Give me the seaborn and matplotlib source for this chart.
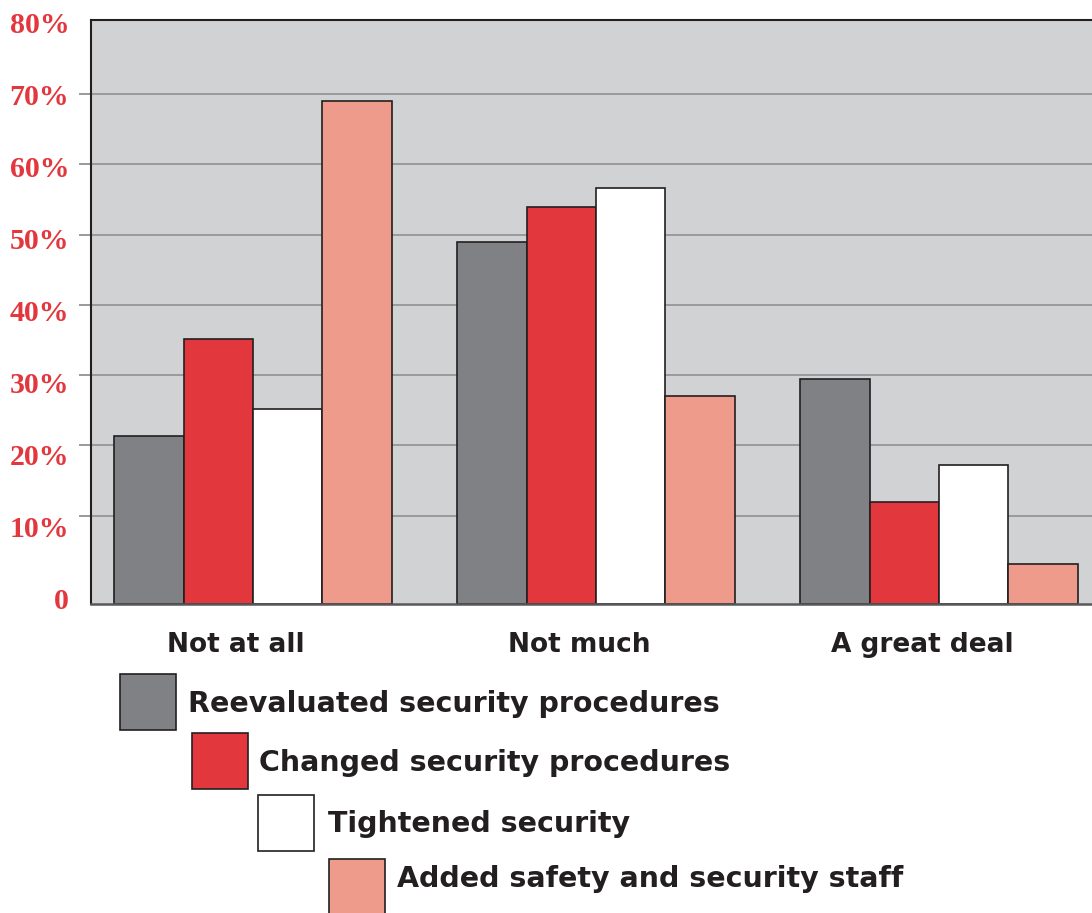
import matplotlib
matplotlib.use("Agg")
import matplotlib.pyplot as plt
import matplotlib.transforms as mtransforms
from matplotlib.patches import Rectangle
import numpy as np
import pandas as pd
import seaborn as sns

# ---- data -------------------------------------------------------------
responses = ["Not at all", "Not much", "A great deal"]
actions = [
    "Reevaluated security procedures",
    "Changed security procedures",
    "Tightened security",
    "Added safety and security staff",
]
reevaluated = [21.4, 48.9, 29.4]
changed = [35.1, 54.0, 12.0]
tightened = [25.2, 56.7, 17.2]
added_staff = [69.0, 27.1, 3.2]
y_tick_values = [0, 10, 20, 30, 40, 50, 60, 70, 80]
y_tick_labels = ["0", "10%", "20%", "30%", "40%", "50%", "60%", "70%", "80%"]
grid_values = [10, 20, 30, 40, 50, 60, 70]

colors = ["#808184", "#e3373e", "#ffffff", "#ef9b8b"]

df = pd.DataFrame({
    "response": responses * 4,
    "action": np.repeat(actions, 3),
    "pct": reevaluated + changed + tightened + added_staff,
})

# ---- style ------------------------------------------------------------
sns.set_theme(style="white")
plt.rcParams["font.family"] = ["DejaVu Sans"]

W, H = 1092, 913
fig = plt.figure(figsize=(W / 100, H / 100), dpi=100)
ax_left, ax_top, ax_bottom = 90.7, 20.0, 604.3
ax = fig.add_axes([ax_left / W, 1 - ax_bottom / H, 1 - ax_left / W, (ax_bottom - ax_top) / H])
ax.set_facecolor("#d1d2d4")

sns.barplot(
    data=df, x="response", y="pct", hue="action", order=responses,
    hue_order=actions, palette=colors, saturation=1, width=0.808,
    edgecolor="#231f20", linewidth=1.2, legend=False, ax=ax,
)

y0, y1 = -2.6, 80.54
ax.set_ylim(y0, y1)
ax.set_xlim(-0.473, 2.446)

# bars rest on the floor of the plot frame
for p in ax.patches:
    h = p.get_height()
    p.set_y(y0)
    p.set_height(h - y0)

# gridlines with short outward ticks
ax.set_axisbelow(True)
ax.set_yticks(grid_values)
ax.set_yticklabels([])
ax.yaxis.grid(True, color="#9a9a9c", linewidth=1.4)
ax.xaxis.grid(False)
ax.tick_params(axis="y", which="major", direction="out", length=8.6,
               width=1.4, color="#9a9a9c", left=True)

# value labels, evenly spread down the left side
label_pos = [-1.707 + 1.0232 * v for v in y_tick_values]
ax.set_yticks(label_pos, minor=True)
ax.set_yticklabels(y_tick_labels, minor=True)
ax.tick_params(axis="y", which="minor", length=0, pad=15.5)
for t in ax.get_yticklabels(minor=True):
    t.set_fontfamily(["Liberation Serif", "DejaVu Serif"])
    t.set_fontweight("bold")
    t.set_fontsize(21.5)
    t.set_color("#e3373e")

# category labels
ax.set_xticks(range(len(responses)))
ax.set_xticklabels(responses)
ax.tick_params(axis="x", length=0, pad=34.1)
shift = mtransforms.ScaledTranslation(-0.17, 0, fig.dpi_scale_trans)
for t in ax.get_xticklabels():
    t.set_fontweight("bold")
    t.set_fontsize(19)
    t.set_color("#231f20")
    t.set_verticalalignment("baseline")
    t.set_transform(t.get_transform() + shift)

ax.set_xlabel("")
ax.set_ylabel("")

for side in ["left", "top"]:
    ax.spines[side].set_color("#231f20")
    ax.spines[side].set_linewidth(1.5)
ax.spines["bottom"].set_color("#58585a")
ax.spines["bottom"].set_linewidth(1.8)
ax.spines["right"].set_visible(False)

# staircase key below the chart
key_boxes = [(120, 674), (192, 733), (258, 795), (329, 859)]
key_text_x = [188, 259, 328, 397]
key_baselines = [711.7, 771, 832, 887]
box = 56
for (bx, by), tx, tb, col, name in zip(key_boxes, key_text_x, key_baselines, colors, actions):
    fig.patches.append(Rectangle(
        (bx / W, 1 - (by + box) / H), box / W, box / H,
        transform=fig.transFigure, facecolor=col, edgecolor="#231f20",
        linewidth=1.2, zorder=3))
    fig.text(tx / W, 1 - tb / H, name, ha="left", va="baseline",
             fontsize=20.5, fontweight="bold", color="#231f20")

fig.savefig("out.png", dpi=100)
